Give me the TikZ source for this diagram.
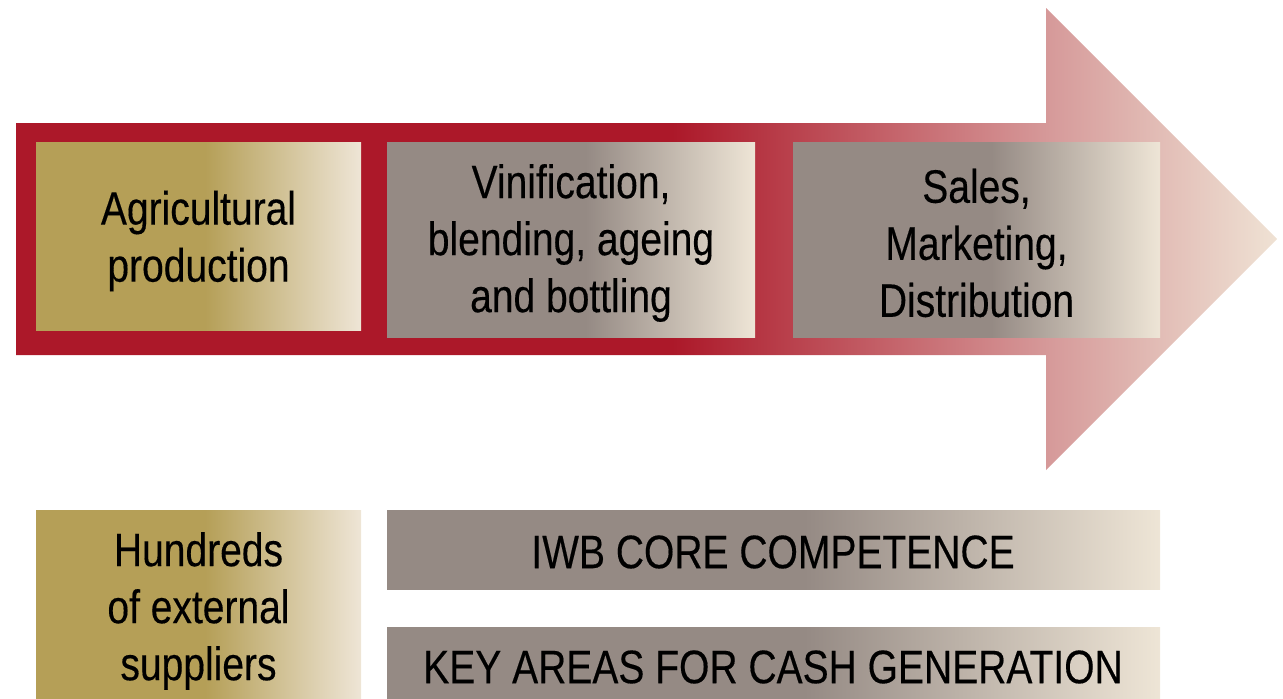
\documentclass[tikz,border=0pt]{standalone}
\usepackage{fontspec}
\setmainfont[FakeStretch=0.83,FakeBold=0.3]{Liberation Sans}
\definecolor{wred}{HTML}{AC1829}
\definecolor{wpink}{HTML}{D69A9A}
\definecolor{wtip}{HTML}{EFE2D4}
\definecolor{wgold}{HTML}{B59F57}
\definecolor{wgrey}{HTML}{958A84}
\definecolor{wcream}{HTML}{EEE5D6}
\pgfdeclarehorizontalshading{arrowshade}{100bp}{color(0bp)=(wred); color(25bp)=(wred); color(51bp)=(wred); color(66bp)=(wpink); color(75bp)=(wtip); color(100bp)=(wtip)}
\pgfdeclarehorizontalshading{goldshade}{100bp}{color(0bp)=(wgold); color(25bp)=(wgold); color(51bp)=(wgold); color(75bp)=(wcream); color(100bp)=(wcream)}
\pgfdeclarehorizontalshading{greyshade}{100bp}{color(0bp)=(wgrey); color(25bp)=(wgrey); color(52bp)=(wgrey); color(75bp)=(wcream); color(100bp)=(wcream)}
\tikzset{
  boxtext/.style={font=\fontsize{47}{57}\selectfont, align=center, text=black, inner sep=0pt},
  goldbox/.style={shading=goldshade, draw=none},
  greybox/.style={shading=greyshade, draw=none}
}
\begin{document}
\begin{tikzpicture}[x=1pt,y=-1pt]
\useasboundingbox (0,0) rectangle (1283,699);
% big arrow
\shade[shading=arrowshade] (16,123) -- (1046,123) -- (1046,8) -- (1277,239) -- (1046,470) -- (1046,355) -- (16,355) -- cycle;
% top boxes
\shade[goldbox] (36,142) rectangle (361,330);
\shade[greybox] (387,142) rectangle (755,337);
\shade[greybox] (793,142) rectangle (1160,337);
\node[boxtext] (agri) at (198.5,241) {Agricultural\\production};
\node[boxtext] (vini) at (571,243) {Vinification,\\blending, ageing\\and bottling};
\node[boxtext] (sales) at (976.5,243) {Sales,\\Marketing,\\Distribution};
% bottom boxes
\shade[goldbox] (36,510) rectangle (361,699);
\shade[greybox] (387,510) rectangle (1160,589);
\shade[greybox] (387,627) rectangle (1160,706);
\node[boxtext] (supp) at (198.5,611) {Hundreds\\of external\\suppliers};
\node[boxtext] (core) at (773,552) {IWB CORE COMPETENCE};
\node[boxtext] (cash) at (773,667) {KEY AREAS FOR CASH GENERATION};
\end{tikzpicture}
\end{document}
